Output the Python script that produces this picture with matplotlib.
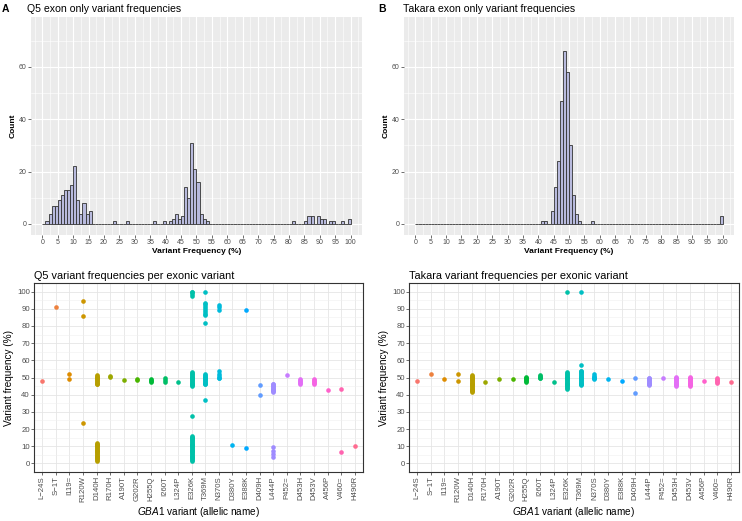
import numpy as np
import matplotlib.pyplot as plt
from matplotlib.ticker import MultipleLocator

plt.rcParams['font.family'] = ['Liberation Sans', 'DejaVu Sans']
plt.rcParams['mathtext.fontset'] = 'custom'
plt.rcParams['mathtext.it'] = 'Liberation Sans:italic'
plt.rcParams['mathtext.rm'] = 'Liberation Sans'

# ---------------- data ----------------
# histogram: left bin edge -> count (binwidth 1, bins 0..100)
q5_bins = [1, 2, 3, 4, 5, 6, 7, 8, 9, 10, 11, 12, 13, 14, 15,
           23, 27, 36, 39, 41, 42, 43, 44, 45, 46, 47, 48, 49, 50, 51, 52, 53,
           81, 85, 86, 87, 89, 90, 91, 93, 94, 97, 99]
q5_counts = [1, 4, 7, 7, 9, 11, 13, 13, 15, 22, 9, 4, 8, 4, 5,
             1, 1, 1, 1, 1, 2, 4, 2, 3, 14, 10, 31, 21, 16, 4, 2, 1,
             1, 1, 3, 3, 3, 2, 2, 1, 1, 1, 2]
tk_bins = [41, 42, 44, 45, 46, 47, 48, 49, 50, 51, 52, 53, 57, 99]
tk_counts = [1, 1, 5, 14, 24, 47, 66, 58, 30, 11, 4, 1, 1, 3]

variants = ['L\u221224S', 'S\u22121T', 'I119=', 'R120W', 'D140H', 'R170H', 'A190T',
            'G202R', 'H255Q', 'I260T', 'L324P', 'E326K', 'T369M', 'N370S',
            'D380Y', 'E388K', 'D409H', 'L444P', 'P452=', 'D453H', 'D453V',
            'A456P', 'V460=', 'H490R']

q5_freq = [
    [48],
    [90.8],
    [52.3, 49],
    [94.5, 85.6, 23.8],
    [46, 46.5, 47, 47.5, 48, 48.5, 49, 49.5, 50, 50.5, 51, 51.5,
     1.5, 2, 2.5, 3, 3.5, 4, 4.5, 5, 5.5, 6, 6.5, 7, 7.5, 8, 8.5, 9, 9.5,
     10, 10.5, 11, 11.5, 12],
    [50.3, 50.8],
    [48.8],
    [48.5, 48.9],
    [47.5, 48, 48.5, 49],
    [47.5, 48.5, 49.5],
    [47.5],
    [97.5, 98.5, 99.5, 100,
     45, 45.5, 46, 46.5, 47, 47.5, 48, 48.5, 49, 49.5, 50, 50.5, 51, 51.5, 52, 52.5, 53,
     27.8,
     1.5, 2, 2.5, 3, 3.5, 4, 4.5, 5, 5.5, 6, 6.5, 7, 7.5, 8, 8.5, 9, 9.5, 10,
     10.5, 11, 11.5, 12, 12.5, 13, 13.5, 14, 14.5, 15, 15.5, 16],
    [100, 93.5, 92.5, 91.5, 90.5, 89.5, 88, 87, 86.5, 81.5,
     46, 46.5, 47, 47.5, 48, 48.5, 49, 49.5, 50, 50.5, 51, 51.5, 52,
     36.8],
    [92, 91, 89.5, 54, 52, 51, 50, 49.5],
    [10.8],
    [89.3, 9],
    [45.8, 39.8],
    [41.5, 42, 42.5, 43, 43.5, 44, 44.5, 45, 45.5, 46, 46.5, 4, 5.5, 7.5, 9.5],
    [51.2],
    [46.5, 47, 47.5, 48, 48.5, 49],
    [46.5, 47, 47.5, 48, 48.5, 49],
    [43],
    [43.5, 6.5],
    [10.2],
]

tk_freq = [
    [48],
    [51.8],
    [49.2],
    [52.3, 48],
    [41.5, 42, 42.5, 43, 43.5, 44, 44.5, 45, 45.5, 46, 46.5, 47, 47.5, 48,
     48.5, 49, 49.5, 50, 50.5, 51, 51.5],
    [47.5],
    [49.2],
    [49.3],
    [47.5, 48, 48.5, 49, 49.5, 50, 50.5],
    [49.5, 50, 50.5, 51, 51.5],
    [47.3],
    [99.8, 43.5, 44, 44.5, 45, 45.5, 46, 46.5, 47, 47.5, 48, 48.5, 49, 49.5,
     50, 50.5, 51, 51.5, 52, 52.5, 53],
    [99.5, 57.5, 45.5, 46, 46.5, 47, 47.5, 48, 48.5, 49, 49.5, 50, 50.5, 51,
     51.5, 52, 52.5, 53, 53.5, 54],
    [49, 49.5, 50, 50.5, 51, 51.8],
    [49],
    [48.2],
    [49.7, 41.2],
    [45.5, 46, 46.5, 47, 47.5, 48, 48.5, 49, 49.5, 50],
    [49.7],
    [45, 45.5, 46, 46.5, 47, 47.5, 48, 48.5, 49, 49.5, 50, 50.5],
    [45, 45.5, 46, 46.5, 47, 47.5, 48, 48.5, 49, 49.5, 50, 50.5],
    [48.2],
    [47, 47.5, 48, 48.5, 49, 49.8],
    [47.5],
]


# ggplot-style hue palette (HCL, l=65, c=100)
def hue_pal(n, l=65, c=100):
    hues = np.linspace(15, 375, n + 1)[:-1]
    xn, yn, zn = 95.047, 100.0, 108.883
    un = 4 * xn / (xn + 15 * yn + 3 * zn)
    vn = 9 * yn / (xn + 15 * yn + 3 * zn)
    out = []
    for h in hues:
        u = c * np.cos(np.radians(h))
        v = c * np.sin(np.radians(h))
        Y = yn * ((l + 16) / 116) ** 3
        up = u / (13 * l) + un
        vp = v / (13 * l) + vn
        X = Y * 9 * up / (4 * vp)
        Z = Y * (12 - 3 * up - 20 * vp) / (4 * vp)
        X, Y, Z = X / 100, Y / 100, Z / 100
        r = 3.2404542 * X - 1.5371385 * Y - 0.4985314 * Z
        g = -0.9692660 * X + 1.8760108 * Y + 0.0415560 * Z
        b = 0.0556434 * X - 0.2040259 * Y + 1.0572252 * Z
        rgb = []
        for ch in (r, g, b):
            ch = 12.92 * ch if ch <= 0.0031308 else 1.055 * ch ** (1 / 2.4) - 0.055
            rgb.append(min(max(ch, 0), 1))
        out.append(tuple(rgb))
    return out


colors = hue_pal(len(variants))

fig = plt.figure(figsize=(7.42, 5.21), dpi=100)
W, H = 742, 521


def px_axes(x0, y0, x1, y1):
    return fig.add_axes([x0 / W, 1 - y1 / H, (x1 - x0) / W, (y1 - y0) / H])


def draw_hist(ax, bins, counts):
    full = np.zeros(100)
    full[bins] = counts
    ax.set_facecolor('#EBEBEB')
    ax.bar(np.arange(100), full, width=1, align='edge', color='#B8BADD',
           edgecolor='#333333', linewidth=0.6, zorder=3)
    ax.set_xlim(-3.7, 103.7)
    ax.set_ylim(-4.2, 79)
    ax.xaxis.set_major_locator(MultipleLocator(5))
    ax.xaxis.set_minor_locator(MultipleLocator(2.5))
    ax.set_yticks([0, 20, 40, 60])
    ax.yaxis.set_minor_locator(MultipleLocator(10))
    ax.grid(which='major', color='white', linewidth=0.8)
    ax.grid(which='minor', color='white', linewidth=0.4)
    ax.set_axisbelow(True)
    for s in ax.spines.values():
        s.set_visible(False)
    ax.tick_params(which='major', length=2, width=0.5, color='#333333',
                   labelsize=5, labelcolor='#4D4D4D', pad=1)
    ax.tick_params(which='minor', length=0)
    ax.set_xlabel('Variant Frequency (%)', fontsize=6, fontweight='bold',
                  labelpad=1)
    ax.set_ylabel('Count', fontsize=6, fontweight='bold', labelpad=2)


def draw_dots(ax, freqs, title):
    for i, vals in enumerate(freqs):
        ax.scatter(np.full(len(vals), i), vals, s=11, color=colors[i],
                   linewidths=0, zorder=3)
    ax.set_xlim(-0.6, len(variants) - 0.4)
    ax.set_ylim(-5, 105)
    ax.set_xticks(range(len(variants)))
    ax.set_xticklabels(variants, rotation=90)
    ax.set_yticks(range(0, 101, 10))
    ax.yaxis.set_minor_locator(MultipleLocator(5))
    ax.grid(which='major', color='#E5E5E5', linewidth=0.6)
    ax.grid(which='minor', axis='y', color='#F0F0F0', linewidth=0.4)
    ax.set_axisbelow(True)
    for s in ax.spines.values():
        s.set_color('#333333')
        s.set_linewidth(0.8)
    ax.tick_params(which='major', length=2, width=0.5, color='#333333',
                   labelsize=5.6, labelcolor='#4D4D4D', pad=1)
    ax.tick_params(which='minor', length=0)
    ax.set_xlabel(r'$\it{GBA1}$ variant (allelic name)', fontsize=7.2, labelpad=2)
    ax.set_ylabel('Variant frequency (%)', fontsize=7.2, labelpad=2)
    ax.set_title(title, loc='left', fontsize=7.8, pad=3)


axA = px_axes(31, 17, 362, 235)
draw_hist(axA, q5_bins, q5_counts)
axB = px_axes(404, 17, 734, 235)
draw_hist(axB, tk_bins, tk_counts)

fig.text(2 / W, 1 - 9 / H, 'A', fontsize=7.5, fontweight='bold', va='center')
fig.text(27 / W, 1 - 9 / H, 'Q5 exon only variant frequencies', fontsize=7.6, va='center')
fig.text(378 / W, 1 - 9 / H, 'B', fontsize=7.5, fontweight='bold', va='center')
fig.text(403 / W, 1 - 9 / H, 'Takara exon only variant frequencies', fontsize=7.6, va='center')

axC = px_axes(34, 283, 363, 472)
draw_dots(axC, q5_freq, 'Q5 variant frequencies per exonic variant')
axD = px_axes(409, 283, 739, 472)
draw_dots(axD, tk_freq, 'Takara variant frequencies per exonic variant')

fig.savefig('out.png', dpi=100)
